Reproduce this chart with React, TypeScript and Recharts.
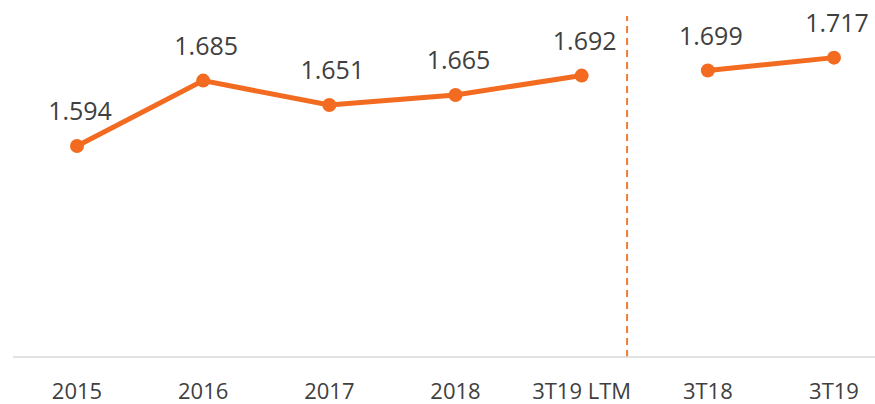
import { LineChart, Line, XAxis, YAxis, ReferenceLine, LabelList } from 'recharts';

const categories = ['2015', '2016', '2017', '2018', '3T19 LTM', '3T18', '3T19'];
const annual = [1.594, 1.685, 1.651, 1.665, 1.692, null, null];
const quarterly = [null, null, null, null, null, 1.699, 1.717];
// where the dashed divider sits, in category-index units
const dividerAt = 4.36;

const data = categories.map((name, i) => ({
    name,
    index: i,
    annual: annual[i],
    quarterly: quarterly[i],
}));

const ORANGE = '#F26B21';
const TEXT = '#404040';

const fmt = (v: number) => v.toFixed(3);

const renderLabel = (props: any) => {
    const { x, y, value } = props;
    if (value === null || value === undefined) return null;
    return (
        <text x={x + 3} y={y - 26} textAnchor="middle" fill={TEXT} fontSize={25}>
            {fmt(value)}
        </text>
    );
};

export default function App() {
    return (
        <div style={{ position: 'absolute', left: 0, top: 0, fontFamily: '"Open Sans", sans-serif' }}>
            <LineChart width={875} height={404} data={data} margin={{ top: 16, right: 0, bottom: 0, left: 13 }}>
                <XAxis
                    dataKey="name"
                    height={47}
                    padding={{ left: 64, right: 41 }}
                    axisLine={{ stroke: '#D9D9D9', strokeWidth: 1.5 }}
                    tickLine={false}
                    tickMargin={20}
                    tick={{ fill: TEXT, fontSize: 22 }}
                    interval={0}
                />
                <XAxis
                    xAxisId="sep"
                    dataKey="index"
                    type="number"
                    domain={[0, 6]}
                    padding={{ left: 64, right: 41 }}
                    hide
                />
                <YAxis domain={[1.3, 1.775]} hide />
                <ReferenceLine
                    xAxisId="sep"
                    x={dividerAt}
                    stroke="#ED7D31"
                    strokeWidth={2}
                    strokeDasharray="7 5"
                />
                <Line
                    dataKey="annual"
                    stroke={ORANGE}
                    strokeWidth={5}
                    dot={{ r: 7, fill: ORANGE, stroke: ORANGE, strokeWidth: 0 }}
                    activeDot={false}
                    isAnimationActive={false}
                >
                    <LabelList dataKey="annual" content={renderLabel} />
                </Line>
                <Line
                    dataKey="quarterly"
                    stroke={ORANGE}
                    strokeWidth={5}
                    dot={{ r: 7, fill: ORANGE, stroke: ORANGE, strokeWidth: 0 }}
                    activeDot={false}
                    isAnimationActive={false}
                >
                    <LabelList dataKey="quarterly" content={renderLabel} />
                </Line>
            </LineChart>
        </div>
    );
}
